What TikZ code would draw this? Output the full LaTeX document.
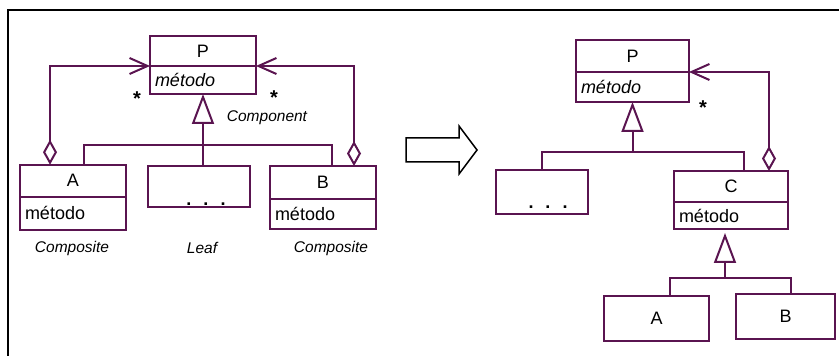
\documentclass[tikz,border=0pt]{standalone}
\usepackage{fontspec}
\setmainfont{Liberation Sans}
\usetikzlibrary{arrows.meta,positioning,calc}

\begin{document}
\begin{tikzpicture}[x=1pt,y=1pt, line width=2pt,
    cls/.style={
            rectangle,
            draw=umlcolor,
            fill=white,
            outer sep=0pt,
            inner sep=0pt,
            font=\fontsize{18}{20}\selectfont
          },
    meth/.style={cls, text width=#1, align=left, inner xsep=5pt},
    tag/.style={inner sep=0pt, font=\fontsize{15.5}{18}\selectfont\itshape},
    mult/.style={inner sep=0pt, font=\fontsize{20}{20}\selectfont\bfseries},
    agg/.style={draw=umlcolor, {Diamond[open,fill=white,length=25pt,width=14pt]}-{Straight Barb[length=18pt,width=16pt]}},
    inh/.style={draw=umlcolor, -{Triangle[open,fill=white,length=30pt,width=22pt]}},
    tree/.style={draw=umlcolor}]
        % Define colors
        \definecolor{umlcolor}{RGB}{90, 20, 80}

    \useasboundingbox (0,0) rectangle (839,356);
    \draw[black] (839,346) -- (8,346) -- (8,0);

    % before
    \begin{scope}
        \node[cls, minimum width=106pt, minimum height=30pt] (P) at (203,305) {P};
        \node[meth=96pt, minimum height=28pt, below=0pt of P] (Pm) {\itshape método};

        \node[cls, minimum width=106pt, minimum height=32pt] (A) at (73,175.3) {A};
        \node[meth=96pt, minimum height=33pt, below=0pt of A] (Am) {método};

        \node[cls, minimum width=102pt, minimum height=41pt] (Leaf) at (199,169.5) {};
        \node[cls, draw=none, fill=none, anchor=south, xshift=7pt, yshift=1pt] (leafdots) at (Leaf.south) {\textbf{.\hspace{12pt}.\hspace{12pt}.}};

        \node[cls, minimum width=106pt, minimum height=33pt] (B) at (323,173.5) {B};
        \node[meth=96pt, minimum height=30pt, below=0pt of B] (Bm) {método};

        \coordinate (lbar) at (203,211);
        \draw[inh] (lbar) -- (Pm.south);
        \draw[tree] ($(A.north)+(11,0)$) |- (lbar) -| ($(B.north)+(9,0)$);
        \draw[tree] (lbar) -- (lbar |- Leaf.north);

        \draw[agg] ($(A.north west)+(30,0)$) |- (Pm.north west);
        \draw[agg] ($(B.north east)+(-22,0)$) |- (Pm.north east);

        \node[mult] (sl) at (137,257) {*};
        \node[mult] (sr) at (274,258) {*};
        \node[tag] (comp) at (267,238) {Component};
        \node[tag] (lcomp) at (72,108) {Composite};
        \node[tag] (leaf) at (202,108) {Leaf};
        \node[tag] (rcomp) at (331,108) {Composite};
    \end{scope}

    \draw[line width=1.5pt, line join=miter] (406,194) -- (459,194) -- (459,182) -- (477,206) -- (459,230) -- (459,218) -- (406,218) -- cycle;

    % after
    \begin{scope}
        \node[cls, minimum width=113pt, minimum height=32pt] (R) at (632.5,300) {P};
        \node[meth=103pt, minimum height=30pt, below=0pt of R] (Rm) {\itshape método};

        \node[cls, minimum width=92pt, minimum height=44pt] (Dots) at (542,164) {};
        \node[cls, draw=none, fill=none, anchor=south, xshift=6pt, yshift=5pt] (moredots) at (Dots.south) {\textbf{.\hspace{12pt}.\hspace{12pt}.}};

        \node[cls, minimum width=114pt, minimum height=31pt] (C) at (731,169.5) {C};
        \node[meth=104pt, minimum height=27pt, below=0pt of C] (Cm) {método};

        \node[cls, minimum width=105pt, minimum height=45pt] (A2) at (656.5,37.5) {A};
        \node[cls, minimum width=99pt, minimum height=45pt] (B2) at (785.5,39.5) {B};

        \coordinate (rbar) at (632.5,204);
        \draw[inh] (rbar) -- (Rm.south);
        \draw[tree] (Dots.north) |- (rbar) -| ($(C.north)+(13,0)$);
        \draw[agg] ($(C.north east)+(-19,0)$) |- (Rm.north east);

        \coordinate (cbar) at (725,78);
        \draw[inh] (cbar) -- ($(Cm.south)+(-6,-4)$);
        \draw[tree] ($(A2.north)+(13.5,0)$) |- (cbar) -| ($(B2.north)+(5.5,0)$);

        \node[mult] (sc) at (703,248) {*};
    \end{scope}

    \end{tikzpicture}
\end{document}
